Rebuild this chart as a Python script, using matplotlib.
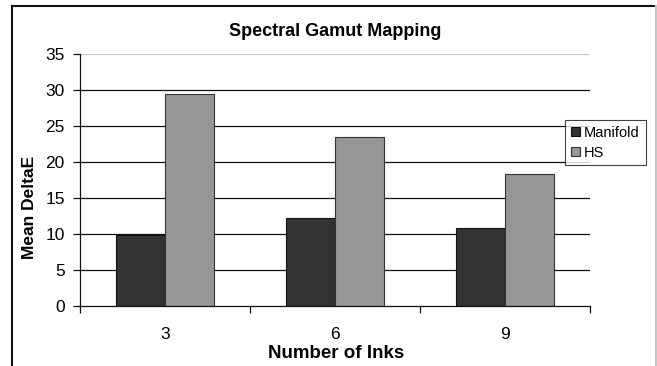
import matplotlib
matplotlib.use("Agg")
import matplotlib.pyplot as plt
from matplotlib.lines import Line2D
from matplotlib.patches import Patch
import numpy as np

plt.rcParams["font.family"] = ["Liberation Sans", "DejaVu Sans"]

# Data
inks = ["3", "6", "9"]
manifold = [9.9, 12.2, 10.8]
hs = [29.4, 23.5, 18.4]
series_names = ["Manifold", "HS"]
y_ticks = [0, 5, 10, 15, 20, 25, 30, 35]

W, H = 657, 366
fig = plt.figure(figsize=(W / 100, H / 100), dpi=100)
fig.patch.set_facecolor("white")

# Plot area in pixel coordinates
left, right, top, bottom = 80, 590, 54, 306
ax = fig.add_axes([left / W, 1 - bottom / H, (right - left) / W, (bottom - top) / H])

x = np.arange(len(inks))
bw = 0.286
c_man, c_hs = "#333333", "#969696"
ax.bar(x - bw / 2, manifold, bw, color=c_man, edgecolor="#111111", linewidth=0.8, zorder=3)
ax.bar(x + bw / 2, hs, bw, color=c_hs, edgecolor="#333333", linewidth=0.8, zorder=3)

ax.set_xlim(-0.5, len(inks) - 0.5)
ax.set_ylim(0, 35)

# Horizontal gridlines
for v in y_ticks[1:]:
    col = "#c8c8c8" if v == 35 else "#111111"
    lw = 1.6 if v == 35 else 0.9
    ax.axhline(v, color=col, linewidth=lw, zorder=1)

for s in ["top", "right"]:
    ax.spines[s].set_visible(False)
ax.spines["left"].set_color("#111111")
ax.spines["left"].set_linewidth(0.9)
ax.spines["bottom"].set_color("#111111")
ax.spines["bottom"].set_linewidth(0.9)
ax.spines["bottom"].set_zorder(4)

ax.set_yticks(y_ticks)
ax.set_yticklabels([str(v) for v in y_ticks], fontsize=12.5)
ax.tick_params(axis="y", direction="out", length=5, width=0.9, pad=6, color="#111111")

ax.set_xticks(x)
ax.set_xticklabels(inks, fontsize=12.5)
ax.set_xticks(np.arange(len(inks) + 1) - 0.5, minor=True)
ax.tick_params(axis="x", which="major", length=0, pad=15)
ax.tick_params(axis="x", which="minor", direction="out", length=5, width=0.9, color="#111111")

# Titles
fig.text((left + right) / 2 / W, 1 - 32 / H, "Spectral Gamut Mapping",
         ha="center", va="center", fontsize=13, fontweight="bold")
fig.text(336 / W, 1 - 353 / H, "Number of Inks", ha="center", va="center",
         fontsize=13.5, fontweight="bold")
fig.text(30 / W, 1 - 207 / H, "Mean DeltaE", ha="center", va="center",
         rotation=90, fontsize=12.5, fontweight="bold")

# Legend
handles = [Patch(facecolor=c_man, edgecolor="#111111", linewidth=0.8),
           Patch(facecolor=c_hs, edgecolor="#333333", linewidth=0.8)]
leg = fig.legend(handles, series_names, loc="upper left",
                 bbox_to_anchor=(565 / W, 1 - 120 / H), fontsize=10.5,
                 frameon=True, fancybox=False, handlelength=0.6, handleheight=0.6,
                 handletextpad=0.3, borderpad=0.4, labelspacing=0.4, borderaxespad=0)
leg.get_frame().set_edgecolor("#111111")
leg.get_frame().set_linewidth(0.8)

# Chart area border
fig.add_artist(Line2D([12 / W, 12 / W], [0, 1 - 5.5 / H], color="#111111", linewidth=1.5))
fig.add_artist(Line2D([12 / W, 656 / W], [1 - 5.5 / H, 1 - 5.5 / H], color="#111111", linewidth=1.5))
fig.add_artist(Line2D([656 / W, 656 / W], [0, 1 - 5.5 / H], color="#c8c8c8", linewidth=1.5))

fig.savefig("out.png", dpi=100, facecolor="white")
